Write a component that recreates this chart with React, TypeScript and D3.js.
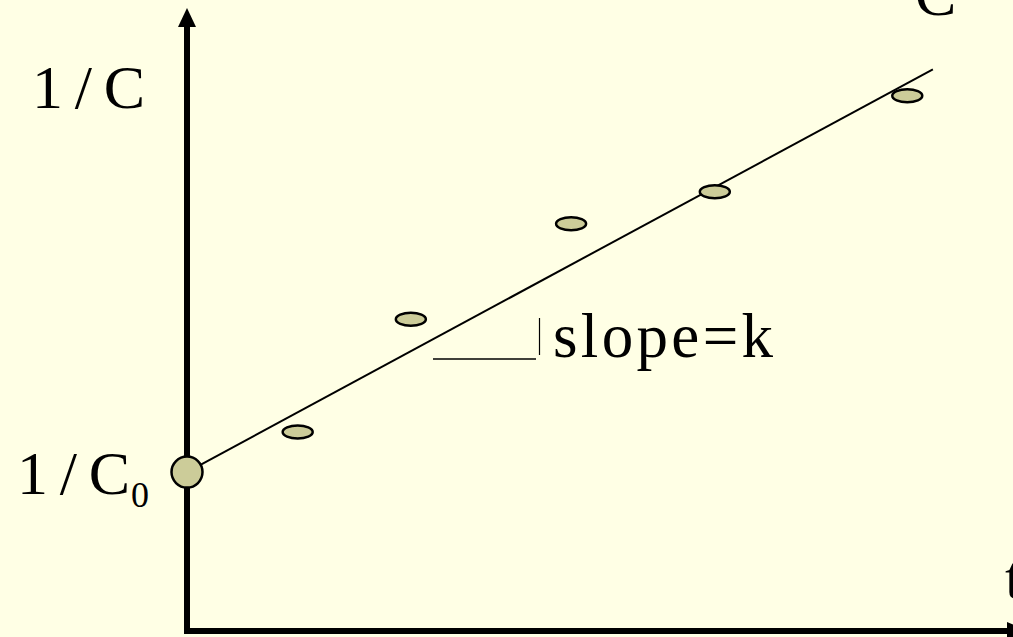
import React from "react";
import * as d3 from "d3";

// Data (arbitrary units)
const times = [1.34, 2.71, 4.65, 6.39, 8.72];
const invC = [3.23, 5.06, 6.61, 7.13, 8.69];
const intercept = 2.58; // 1/C0
const slopeK = 0.724;
const tEnd = 9.03;
const axisLabels = { y: "1/C", y0: "1/C", y0sub: "0", x: "t", slope: "slope=k", corner: "C" };

const W = 1013;
const H = 637;
const FONT = "'Liberation Serif', 'DejaVu Serif', serif";

export default function App() {
  const x = d3.scaleLinear().domain([0, 10]).range([187, 1013]);
  const y = d3.scaleLinear().domain([0, 10]).range([631, 15]);

  const fit = d3
    .line<number>()
    .x((t) => x(t))
    .y((t) => y(intercept + slopeK * t));

  const x0 = x(0);
  const y0 = y(0);

  return (
    <svg
      width={W}
      height={H}
      style={{ position: "absolute", left: 0, top: 0, background: "#FFFFE5" }}
    >
      <rect x={0} y={0} width={W} height={H} fill="#FFFFE5" />
      {/* axes */}
      <line x1={x0} y1={y0 + 3} x2={x0} y2={24} stroke="#000" strokeWidth={6} />
      <path d={`M${x0},8 L${x0 - 9},27 L${x0 + 9},27 Z`} fill="#000" />
      <line x1={x0 - 3} y1={y0} x2={1010} y2={y0} stroke="#000" strokeWidth={6} />
      <path d={`M1028,${y0} L1007,${y0 - 9} L1007,${y0 + 9} Z`} fill="#000" />

      {/* fitted line */}
      <path d={fit([0, tEnd]) || ""} fill="none" stroke="#000" strokeWidth={2} />

      {/* data points */}
      {times.map((t, i) => (
        <ellipse
          key={i}
          cx={x(t)}
          cy={y(invC[i])}
          rx={15}
          ry={6.5}
          fill="#CCCC99"
          stroke="#000"
          strokeWidth={2.5}
        />
      ))}

      {/* intercept */}
      <circle cx={x0} cy={y(intercept)} r={15.5} fill="#CCCC99" stroke="#000" strokeWidth={2.5} />

      {/* slope annotation */}
      <line x1={433} y1={359} x2={536} y2={359} stroke="#000" strokeWidth={1.5} />
      <line x1={539.5} y1={318} x2={539.5} y2={355} stroke="#000" strokeWidth={1.2} />
      <text x={553} y={357} fontFamily={FONT} fontSize={63} textLength={220} lengthAdjust="spacing">
        {axisLabels.slope}
      </text>

      {/* labels */}
      <text x={32} y={108} fontFamily={FONT} fontSize={62} textLength={113} lengthAdjust="spacing">
        {axisLabels.y}
      </text>
      <text x={17} y={494} fontFamily={FONT} fontSize={62} textLength={113} lengthAdjust="spacing">
        {axisLabels.y0}
      </text>
      <text x={131} y={507} fontFamily={FONT} fontSize={36}>
        {axisLabels.y0sub}
      </text>
      <text x={1005} y={598} fontFamily={FONT} fontSize={62}>
        {axisLabels.x}
      </text>
      <text x={915} y={15} fontFamily={FONT} fontSize={62}>
        {axisLabels.corner}
      </text>
    </svg>
  );
}
